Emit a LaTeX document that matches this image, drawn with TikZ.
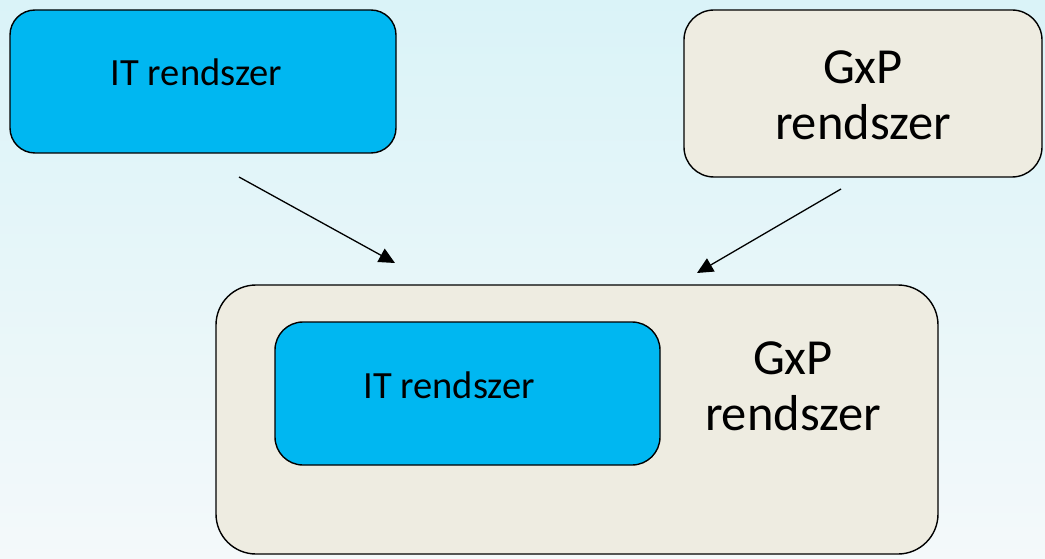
\documentclass[tikz,border=0pt]{standalone}
\usepackage{fontspec}
\setmainfont{Carlito}
\usetikzlibrary{arrows.meta}
\definecolor{itblue}{RGB}{0,183,241}
\definecolor{gxpbeige}{RGB}{238,236,225}
\definecolor{bgtop}{RGB}{218,243,248}
\definecolor{bgbot}{RGB}{244,249,250}
\tikzset{
  box/.style={draw=black, line width=1.4pt, inner sep=0pt},
  itbox/.style={box, fill=itblue},
  gxpbox/.style={box, fill=gxpbeige},
  smalltxt/.style={font=\fontsize{38.5}{46}\selectfont, anchor=base, inner sep=0pt},
  bigtxt/.style={font=\fontsize{50.5}{56}\selectfont, align=center, anchor=base, inner sep=0pt},
  arr/.style={line width=1.3pt, -{Triangle[length=16pt,width=15pt]}}
}
\begin{document}
\begin{tikzpicture}[x=1pt,y=-1pt]
\useasboundingbox (0,0) rectangle (1045,559);
\shade[top color=bgtop, bottom color=bgbot] (0,0) rectangle (1045,559);
% top-left IT box
\node[itbox, rounded corners=25pt, minimum width=386pt, minimum height=143pt] (itA) at (203,81.5) {};
\node[smalltxt] (itAt) at (196.5,86) {IT rendszer};
% top-right GxP box
\node[gxpbox, rounded corners=30pt, minimum width=358pt, minimum height=167pt] (gxpA) at (863,93.5) {};
\node[bigtxt] (gxpAt) at (863,140) {GxP\\rendszer};
% bottom GxP box
\node[gxpbox, rounded corners=40pt, minimum width=722pt, minimum height=269pt] (gxpB) at (577,419.5) {};
\node[itbox, rounded corners=28pt, minimum width=385pt, minimum height=143pt] (itB) at (467.5,393.5) {};
\node[smalltxt] (itBt) at (449,398) {IT rendszer};
\node[bigtxt] (gxpBt) at (793,430) {GxP\\rendszer};
% arrows
\coordinate (a1s) at (239,177);
\coordinate (a1e) at (395,263);
\coordinate (a2s) at (841,189);
\coordinate (a2e) at (697,273);
\draw[arr] (a1s) -- (a1e);
\draw[arr] (a2s) -- (a2e);
\end{tikzpicture}
\end{document}
